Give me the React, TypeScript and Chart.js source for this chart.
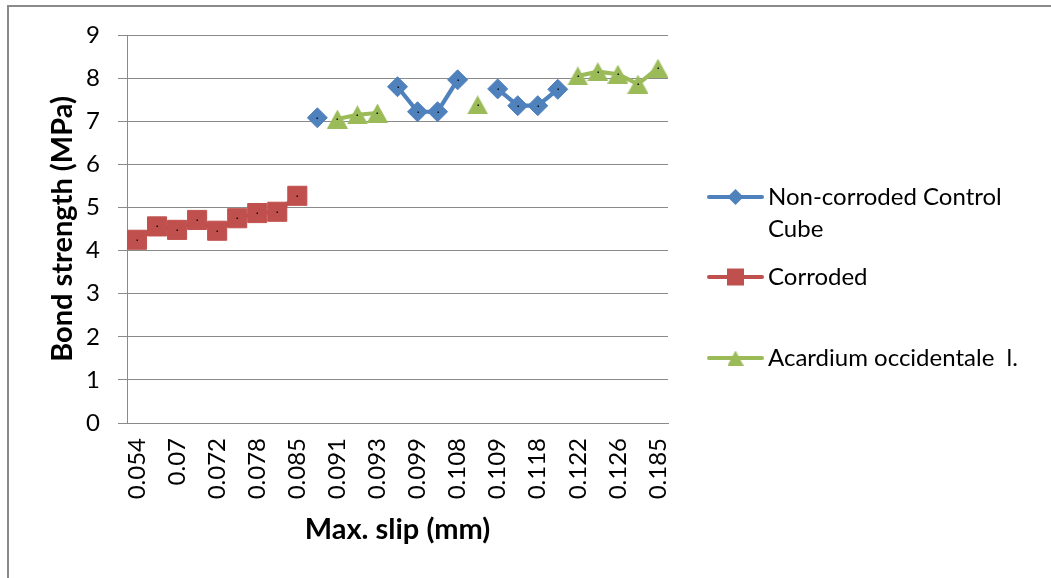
import React, { useEffect, useRef } from "react";
import { Chart, registerables } from "chart.js";

Chart.register(...registerables);

// Max. slip categories (mm); only every other one is labelled on the axis
const slipLabels = [
  "0.054", "0.065", "0.07", "0.071", "0.072", "0.075", "0.078", "0.08", "0.085",
  "0.088", "0.091", "0.092", "0.093", "0.095", "0.099", "0.105", "0.108", "0.108",
  "0.109", "0.113", "0.118", "0.12", "0.122", "0.124", "0.126", "0.134", "0.185",
];

// Bond strength (MPa) per series, null where the series has no reading
const nonCorroded = [
  null, null, null, null, null, null, null, null, null,
  7.08, null, null, null, 7.8, 7.22, 7.22, 7.96, null,
  7.75, 7.36, 7.36, 7.74, null, null, null, null, null,
];
const corroded = [
  4.25, 4.56, 4.48, 4.71, 4.46, 4.75, 4.87, 4.9, 5.27,
  null, null, null, null, null, null, null, null, null,
  null, null, null, null, null, null, null, null, null,
];
const acardium = [
  null, null, null, null, null, null, null, null, null,
  null, 7.05, 7.15, 7.19, null, null, null, null, 7.38,
  null, null, null, null, 8.05, 8.15, 8.09, 7.86, 8.23,
];

const yTicks = [0, 1, 2, 3, 4, 5, 6, 7, 8, 9];

const BLUE = "#4F81BD";
const RED = "#C0504D";
const GREEN = "#9BBB59";
const GRID = "#8a8a8a";
const FONT = "Lato";
const LINE_W = 4.2;

function triangleImage(w: number, h: number, color: string) {
  const c = document.createElement("canvas");
  c.width = w;
  c.height = h;
  const g = c.getContext("2d")!;
  g.fillStyle = color;
  g.beginPath();
  g.moveTo(w / 2, 0);
  g.lineTo(w, h);
  g.lineTo(0, h);
  g.closePath();
  g.fill();
  return c;
}

const frame = {
  id: "frame",
  beforeDraw(chart: any) {
    const ctx = chart.ctx;
    ctx.save();
    ctx.fillStyle = "#ffffff";
    ctx.fillRect(0, 0, chart.width, chart.height);
    ctx.fillStyle = GRID;
    ctx.fillRect(7, 5, 2, chart.height - 5);
    ctx.fillRect(7, 5, chart.width - 7, 2);
    ctx.restore();
  },
};

const centerDots = {
  id: "centerDots",
  afterDatasetsDraw(chart: any) {
    const ctx = chart.ctx;
    ctx.save();
    ctx.fillStyle = "#111";
    chart.data.datasets.forEach((_: any, i: number) => {
      chart.getDatasetMeta(i).data.forEach((pt: any) => {
        if (pt.skip) return;
        ctx.fillRect(Math.round(pt.x) - 0.5, Math.round(pt.y) - 0.5, 1.5, 1.5);
      });
    });
    ctx.restore();
  },
};

function makeLegend(legendTri: HTMLCanvasElement) {
  return {
    id: "sideLegend",
    afterDraw(chart: any) {
      const ctx = chart.ctx;
      const items = [
        { color: BLUE, style: "diamond", lines: ["Non-corroded Control", "Cube"], y: 197 },
        { color: RED, style: "square", lines: ["Corroded"], y: 277 },
        { color: GREEN, style: "triangle", lines: ["Acardium occidentale  l."], y: 358 },
      ];
      ctx.save();
      items.forEach((it) => {
        ctx.strokeStyle = it.color;
        ctx.fillStyle = it.color;
        ctx.lineWidth = 4;
        ctx.lineCap = "round";
        ctx.beginPath();
        ctx.moveTo(709, it.y);
        ctx.lineTo(762, it.y);
        ctx.stroke();
        const cx = 735.5;
        if (it.style === "diamond") {
          ctx.beginPath();
          ctx.moveTo(cx, it.y - 8);
          ctx.lineTo(cx + 8, it.y);
          ctx.lineTo(cx, it.y + 8);
          ctx.lineTo(cx - 8, it.y);
          ctx.closePath();
          ctx.fill();
        } else if (it.style === "square") {
          ctx.fillRect(cx - 8.5, it.y - 8.5, 17, 17);
        } else {
          ctx.drawImage(legendTri, cx - legendTri.width / 2, it.y - legendTri.height / 2);
        }
        ctx.fillStyle = "#000";
        ctx.font = `24px ${FONT}`;
        ctx.textBaseline = "middle";
        ctx.textAlign = "left";
        it.lines.forEach((t, k) => ctx.fillText(t, 768, it.y + k * 32));
      });
      ctx.restore();
    },
  };
}

export default function App() {
  const ref = useRef<HTMLCanvasElement>(null);

  useEffect(() => {
    const tri = triangleImage(21, 19, GREEN);
    const legendTri = triangleImage(16, 15, GREEN);
    const chart = new Chart(ref.current!, {
      type: "line",
      data: {
        labels: slipLabels,
        datasets: [
          {
            label: "Non-corroded Control Cube",
            data: nonCorroded,
            borderColor: BLUE,
            backgroundColor: BLUE,
            borderWidth: LINE_W,
            pointStyle: "rectRot",
            pointRadius: 10,
            pointBorderWidth: 1,
            spanGaps: false,
          },
          {
            label: "Corroded",
            data: corroded,
            borderColor: RED,
            backgroundColor: RED,
            borderWidth: LINE_W,
            pointStyle: "rect",
            pointRadius: 13.5,
            pointBorderWidth: 1,
            spanGaps: false,
          },
          {
            label: "Acardium occidentale  l.",
            data: acardium,
            borderColor: GREEN,
            backgroundColor: GREEN,
            borderWidth: LINE_W,
            pointStyle: tri,
            pointRadius: 11,
            spanGaps: false,
          },
        ],
      },
      options: {
        responsive: false,
        animation: false,
        events: [],
        layout: { padding: { left: 40, top: 35, right: 383, bottom: 30 } },
        plugins: {
          legend: { display: false },
          tooltip: { enabled: false },
        },
        scales: {
          x: {
            type: "category",
            offset: true,
            grid: { display: false, drawTicks: false },
            border: { display: true, color: GRID, width: 1 },
            ticks: {
              autoSkip: false,
              maxRotation: 90,
              minRotation: 90,
              padding: 15,
              color: "#000",
              font: { family: FONT, size: 24 },
              callback: (_v: any, i: number) => (i % 2 === 0 ? slipLabels[i] : ""),
            },
            title: {
              display: true,
              text: "Max. slip (mm)",
              color: "#000",
              font: { family: FONT, size: 29, weight: "bold" },
              padding: { top: 0, bottom: 1 },
            },
            afterFit: (s: any) => {
              s.height = 125;
            },
          },
          y: {
            min: 0,
            max: 9,
            afterBuildTicks: (s: any) => {
              s.ticks = yTicks.map((v) => ({ value: v }));
            },
            grid: { color: GRID, lineWidth: 1, tickLength: 9, drawTicks: true },
            border: { display: true, color: GRID, width: 1 },
            ticks: {
              padding: 18,
              color: "#000",
              font: { family: FONT, size: 24 },
            },
            title: {
              display: true,
              text: "Bond strength (MPa)",
              color: "#000",
              font: { family: FONT, size: 29, weight: "bold" },
              padding: { top: 5, bottom: 0 },
            },
            afterFit: (s: any) => {
              s.width = 87;
            },
          },
        },
      },
      plugins: [frame, centerDots, makeLegend(legendTri)],
    });
    return () => chart.destroy();
  }, []);

  return (
    <div
      style={{
        position: "absolute",
        left: 0,
        top: 0,
        width: 1051,
        height: 578,
        overflow: "hidden",
        background: "#fff",
      }}
    >
      <canvas ref={ref} width={1051} height={578} style={{ display: "block" }} />
    </div>
  );
}
